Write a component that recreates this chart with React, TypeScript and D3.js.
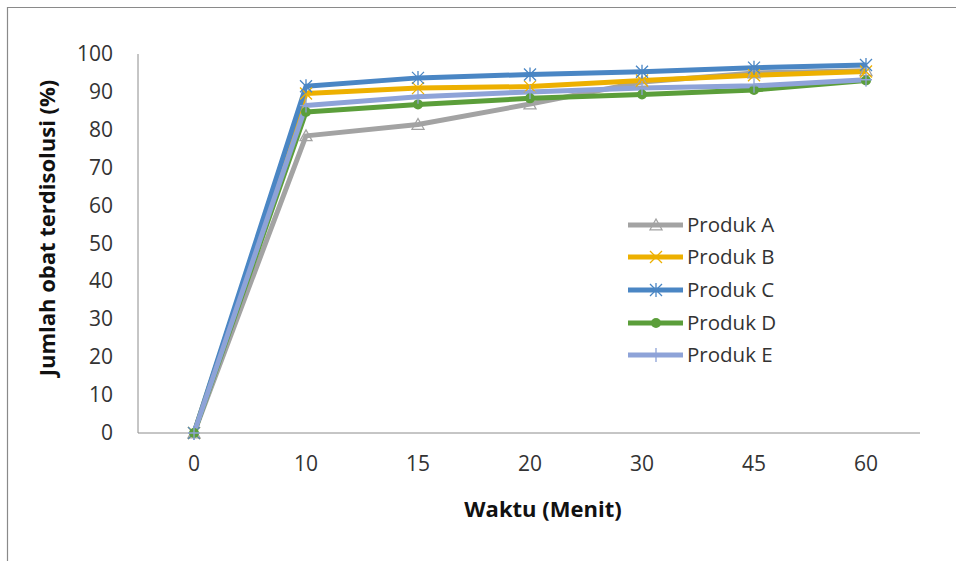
import React from "react";
import * as d3 from "d3";

const categories = ["0", "10", "15", "20", "30", "45", "60"];
const yTicks = [0, 10, 20, 30, 40, 50, 60, 70, 80, 90, 100];
const seriesNames = ["Produk A", "Produk B", "Produk C", "Produk D", "Produk E"];
const produkA = [0, 78.4, 81.4, 86.8, 92.6, 95.0, 95.6];
const produkB = [0, 89.6, 91.0, 91.4, 93.0, 94.4, 95.4];
const produkC = [0, 91.5, 93.7, 94.6, 95.3, 96.4, 97.1];
const produkD = [0, 84.7, 86.7, 88.3, 89.3, 90.5, 93.0];
const produkE = [0, 86.4, 88.7, 90.0, 91.0, 91.6, 93.2];
const colors = ["#A3A3A3", "#EDB000", "#4A86C4", "#5B9E3A", "#8EA3D8"];
const markers = ["triangle", "x", "asterisk", "circle", "plus"];

const W = 956, H = 561;
const left = 138, right = 922, top = 54, bottom = 433;

function Marker({ type, x, y, color }: { type: string; x: number; y: number; color: string }) {
  const s = 6;
  if (type === "triangle")
    return <path d={`M${x},${y - s}L${x + s},${y + s * 0.8}L${x - s},${y + s * 0.8}Z`} fill="none" stroke={color} strokeWidth={1.3} />;
  if (type === "x")
    return <path d={`M${x - s},${y - s}L${x + s},${y + s}M${x - s},${y + s}L${x + s},${y - s}`} stroke={color} strokeWidth={1.3} />;
  if (type === "asterisk")
    return <path d={`M${x - s},${y - s}L${x + s},${y + s}M${x - s},${y + s}L${x + s},${y - s}M${x},${y - s - 1}L${x},${y + s + 1}`} stroke={color} strokeWidth={1.3} />;
  if (type === "circle") return <circle cx={x} cy={y} r={5} fill={color} />;
  return <path d={`M${x - s},${y}L${x + s},${y}M${x},${y - s - 1}L${x},${y + s + 1}`} stroke={color} strokeWidth={1.3} />;
}

export default function App() {
  const series = [produkA, produkB, produkC, produkD, produkE];
  const x = d3.scaleBand().domain(categories).range([left, right]);
  const y = d3.scaleLinear().domain([0, 100]).range([bottom, top]);
  const cx = (c: string) => (x(c) as number) + x.bandwidth() / 2;
  const line = d3.line<number>().x((_, i) => cx(categories[i])).y((d) => y(d));
  const font = "'Open Sans', 'Liberation Sans', sans-serif";
  const legendY = [225, 257, 290, 323, 355];
  return (
    <svg width={W} height={H} style={{ position: "absolute", left: 0, top: 0 }} fontFamily={font}>
      <rect x={0} y={0} width={W} height={H} fill="#fff" />
      <path d={`M7.5,${H}L7.5,7.5L${W},7.5`} fill="none" stroke="#8a8a8a" strokeWidth={1.2} />
      <line x1={left} x2={left} y1={top} y2={bottom} stroke="#8c8c8c" strokeWidth={1} />
      <line x1={left} x2={right - 2} y1={bottom} y2={bottom} stroke="#8c8c8c" strokeWidth={1} />
      {yTicks.map((t) => (
        <text key={t} x={113} y={y(t) + 7} textAnchor="end" fontSize={21} fill="#333">{t}</text>
      ))}
      {categories.map((c) => (
        <text key={c} x={cx(c)} y={471} textAnchor="middle" fontSize={21} fill="#333">{c}</text>
      ))}
      <text x={543} y={517} textAnchor="middle" fontSize={22} fontWeight="bold" fill="#111">Waktu (Menit)</text>
      <text transform="translate(55,228) rotate(-90)" textAnchor="middle" fontSize={22} fontWeight="bold" fill="#111">Jumlah obat terdisolusi (%)</text>
      {series.map((s, i) => (
        <path key={i} d={line(s) || ""} fill="none" stroke={colors[i]} strokeWidth={5} strokeLinejoin="round" />
      ))}
      {series.map((s, i) =>
        s.map((v, j) => <Marker key={`${i}-${j}`} type={markers[i]} x={cx(categories[j])} y={y(v)} color={colors[i]} />)
      )}
      {seriesNames.map((n, i) => (
        <g key={n}>
          <line x1={628} x2={683} y1={legendY[i]} y2={legendY[i]} stroke={colors[i]} strokeWidth={5} />
          <Marker type={markers[i]} x={656} y={legendY[i]} color={colors[i]} />
          <text x={687} y={legendY[i] + 7} fontSize={20.5} fill="#333">{n}</text>
        </g>
      ))}
    </svg>
  );
}
